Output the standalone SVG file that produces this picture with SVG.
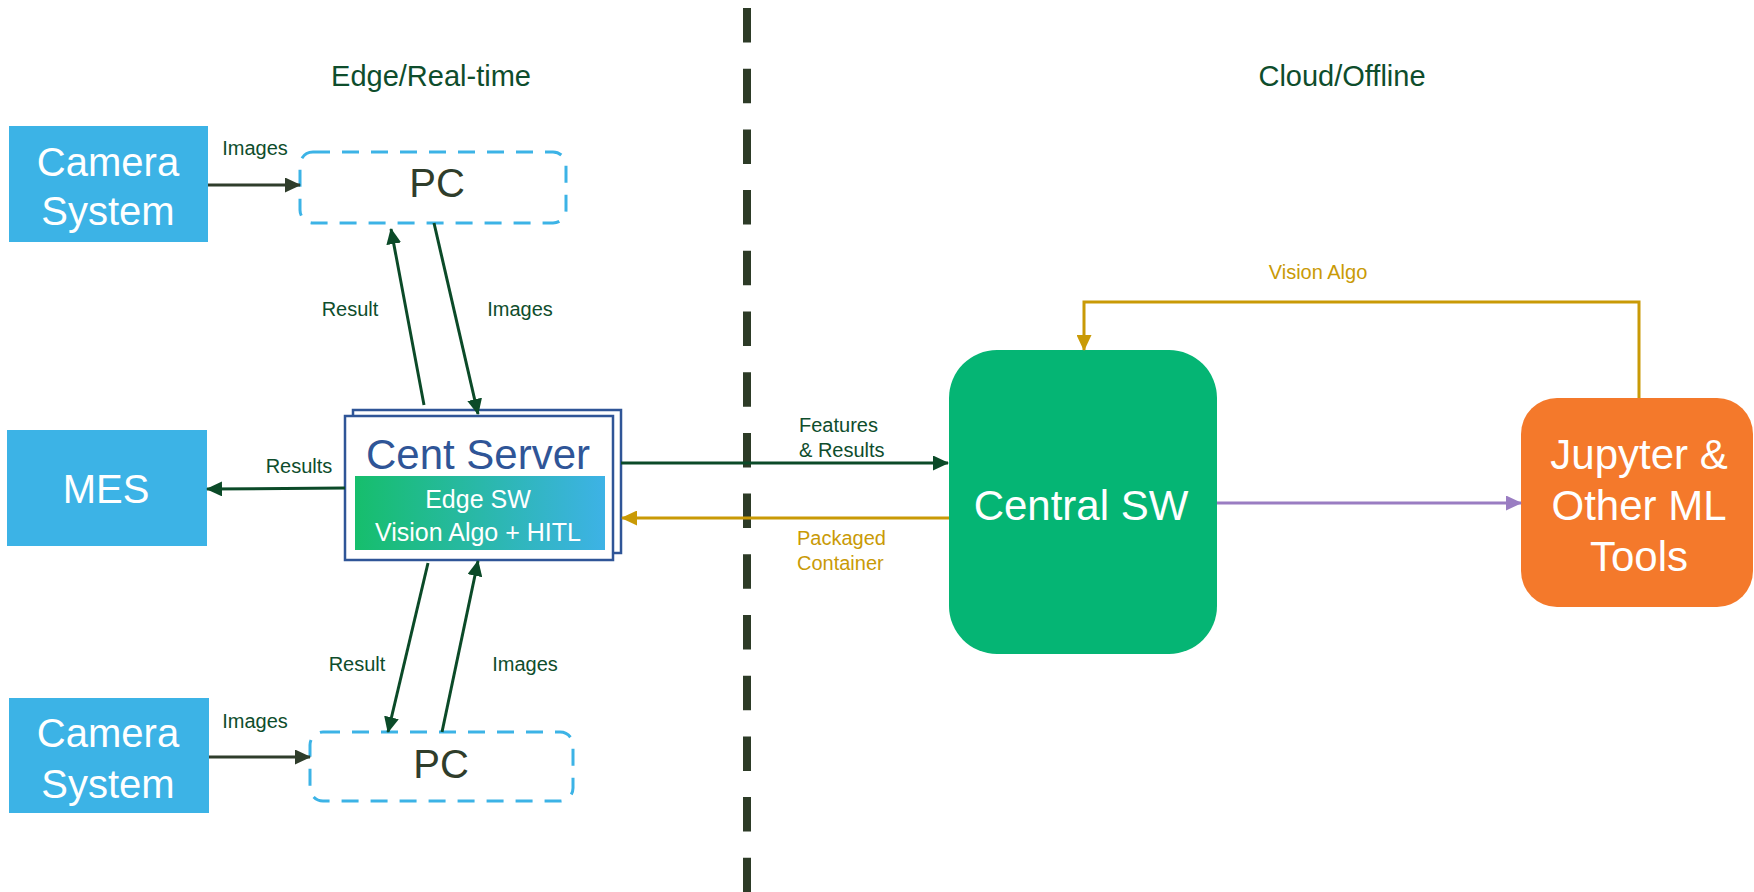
<svg xmlns="http://www.w3.org/2000/svg" width="1754" height="892" viewBox="0 0 1754 892">
  <style>
    text { font-family: "Liberation Sans", Arial, sans-serif; }
    .block { fill: #3CB3E6; }
    .block-txt { fill: #ffffff; font-size: 40px; text-anchor: middle; }
    .pc { fill: #ffffff; stroke: #3CB3E6; stroke-width: 3; stroke-dasharray: 17 12; }
    .pc-txt { fill: #2F3D2B; font-size: 40px; text-anchor: middle; }
    .lbl { font-size: 20px; fill: #0E4D2C; }
    .mid { text-anchor: middle; }
    .gold-lbl { font-size: 20px; fill: #C99A06; }
    .hdr { font-size: 29px; fill: #0E4D2C; text-anchor: middle; }
    .frame { fill: #ffffff; stroke: #2F5597; stroke-width: 2.5; }
    .c-olive { stroke: #2F3D2B; stroke-width: 3; fill: none; marker-end: url(#ah-olive); }
    .c-green { stroke: #0B4A28; stroke-width: 3; fill: none; marker-end: url(#ah-green); }
    .c-gold { stroke: #C99A06; stroke-width: 3; fill: none; marker-end: url(#ah-gold); }
    .c-purple { stroke: #9A7DC2; stroke-width: 3; fill: none; marker-end: url(#ah-purple); }
  </style>
  <defs>
    <marker id="ah-olive" viewBox="0 0 16 15" refX="15" refY="7.5" markerWidth="16" markerHeight="15" markerUnits="userSpaceOnUse" orient="auto">
      <path d="M0,0 L16,7.5 L0,15 z" fill="#2F3D2B"/>
    </marker>
    <marker id="ah-green" viewBox="0 0 16 15" refX="15" refY="7.5" markerWidth="16" markerHeight="15" markerUnits="userSpaceOnUse" orient="auto">
      <path d="M0,0 L16,7.5 L0,15 z" fill="#0B4A28"/>
    </marker>
    <marker id="ah-gold" viewBox="0 0 16 15" refX="15" refY="7.5" markerWidth="16" markerHeight="15" markerUnits="userSpaceOnUse" orient="auto">
      <path d="M0,0 L16,7.5 L0,15 z" fill="#C99A06"/>
    </marker>
    <marker id="ah-purple" viewBox="0 0 16 15" refX="15" refY="7.5" markerWidth="16" markerHeight="15" markerUnits="userSpaceOnUse" orient="auto">
      <path d="M0,0 L16,7.5 L0,15 z" fill="#9A7DC2"/>
    </marker>
    <linearGradient id="edge-grad" x1="0" y1="0" x2="1" y2="0">
      <stop offset="0" stop-color="#16BE6C"/>
      <stop offset="1" stop-color="#3DB2E6"/>
    </linearGradient>
  </defs>

  <rect width="1754" height="892" fill="#ffffff"/>

  <!-- zone divider and headings -->
  <g id="divider">
    <line x1="747" y1="8" x2="747" y2="892" stroke="#2D3B27" stroke-width="8" stroke-dasharray="34.5 26.2"/>
    <text class="hdr" x="431" y="86">Edge/Real-time</text>
    <text class="hdr" x="1342" y="86">Cloud/Offline</text>
  </g>

  <g id="camera-top">
    <rect class="block" x="9" y="126" width="199" height="116"/>
    <text class="block-txt" x="108" y="176">Camera</text>
    <text class="block-txt" x="108" y="225">System</text>
  </g>

  <g id="pc-top">
    <rect class="pc" x="300" y="152" width="266" height="71" rx="13"/>
    <text class="pc-txt" x="437" y="197">PC</text>
  </g>

  <g id="mes">
    <rect class="block" x="7" y="430" width="200" height="116"/>
    <text class="block-txt" x="106" y="503">MES</text>
  </g>

  <g id="cent-server">
    <rect class="frame" x="353" y="410" width="268" height="143"/>
    <rect class="frame" x="345" y="416" width="268" height="144"/>
    <text x="478" y="469" font-size="42" fill="#2F5597" text-anchor="middle">Cent Server</text>
    <rect x="355" y="476" width="250" height="74" fill="url(#edge-grad)"/>
    <text x="478" y="508" font-size="25" fill="#ffffff" text-anchor="middle">Edge SW</text>
    <text x="478" y="541" font-size="25" fill="#ffffff" text-anchor="middle">Vision Algo + HITL</text>
  </g>

  <g id="camera-bottom">
    <rect class="block" x="9" y="698" width="200" height="115"/>
    <text class="block-txt" x="108" y="747">Camera</text>
    <text class="block-txt" x="108" y="798">System</text>
  </g>

  <g id="pc-bottom">
    <rect class="pc" x="310" y="732" width="263" height="69" rx="13"/>
    <text class="pc-txt" x="441" y="778">PC</text>
  </g>

  <g id="central-sw">
    <rect x="949" y="350" width="268" height="304" rx="48" fill="#05B574"/>
    <text x="1081" y="520" font-size="42" fill="#ffffff" text-anchor="middle">Central SW</text>
  </g>

  <g id="ml-tools">
    <rect x="1521" y="398" width="232" height="209" rx="36" fill="#F4792B"/>
    <text x="1639" y="469" font-size="42" fill="#ffffff" text-anchor="middle">Jupyter &amp;</text>
    <text x="1639" y="520" font-size="42" fill="#ffffff" text-anchor="middle">Other ML</text>
    <text x="1639" y="571" font-size="42" fill="#ffffff" text-anchor="middle">Tools</text>
  </g>

  <g id="connectors">
    <!-- cameras feed the PCs -->
    <line class="c-olive" x1="208" y1="185" x2="300" y2="185"/>
    <line class="c-olive" x1="209" y1="757" x2="310" y2="757"/>
    <!-- top PC exchange -->
    <line class="c-green" x1="424" y1="405" x2="391" y2="229"/>
    <line class="c-green" x1="434" y1="223" x2="478" y2="414"/>
    <!-- bottom PC exchange -->
    <line class="c-green" x1="428" y1="563" x2="388" y2="732"/>
    <line class="c-green" x1="442" y1="732" x2="478" y2="561"/>
    <!-- results to MES -->
    <line class="c-green" x1="345" y1="488" x2="207" y2="489"/>
    <!-- edge to cloud -->
    <line class="c-green" x1="621" y1="463" x2="948" y2="463"/>
    <line class="c-gold" x1="949" y1="518" x2="622" y2="518"/>
    <!-- cloud internal -->
    <line class="c-purple" x1="1217" y1="503" x2="1521" y2="503"/>
    <path class="c-gold" d="M1639,398 V302 H1084 V350"/>
  </g>

  <g id="labels">
    <text class="lbl mid" x="255" y="155">Images</text>
    <text class="lbl mid" x="350" y="316">Result</text>
    <text class="lbl mid" x="520" y="316">Images</text>
    <text class="lbl mid" x="299" y="473">Results</text>
    <text class="lbl mid" x="357" y="671">Result</text>
    <text class="lbl mid" x="525" y="671">Images</text>
    <text class="lbl mid" x="255" y="728">Images</text>
    <text class="lbl" x="799" y="432">Features</text>
    <text class="lbl" x="799" y="457">&amp; Results</text>
    <text class="gold-lbl" x="797" y="545">Packaged</text>
    <text class="gold-lbl" x="797" y="570">Container</text>
    <text class="gold-lbl mid" x="1318" y="279">Vision Algo</text>
  </g>
</svg>
